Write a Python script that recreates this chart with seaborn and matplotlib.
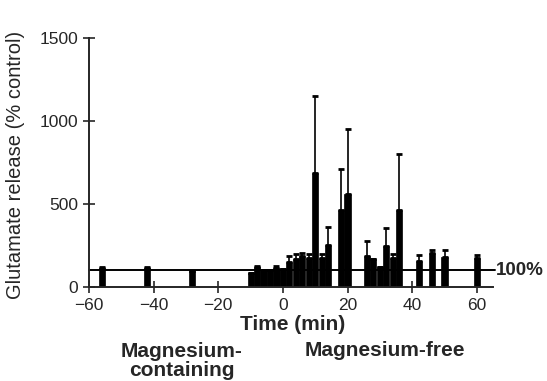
import numpy as np
import pandas as pd
import matplotlib
matplotlib.use('Agg')
import matplotlib.pyplot as plt
import seaborn as sns

# sample times (min) and glutamate release (% control)
times = [-56, -42, -28, -10, -8, -6, -4, -2, 0, 2, 4, 6, 8, 10, 12, 14,
         18, 20, 26, 28, 30, 32, 34, 36, 42, 46, 50, 60]
release = [110, 114, 92, 80, 118, 100, 100, 115, 105, 150, 170, 184, 176, 684, 176, 254,
           464, 560, 184, 166, 120, 244, 176, 464, 156, 204, 180, 176]
# upper error (SEM) only
err_up = [8, 6, 0, 0, 8, 0, 0, 8, 0, 34, 30, 22, 20, 468, 24, 106,
          246, 394, 90, 0, 0, 110, 20, 336, 38, 20, 44, 14]

yticks = [0, 500, 1000, 1500]
xticks = [-60, -40, -20, 0, 20, 40, 60]
baseline = 100

df = pd.DataFrame({'time': times, 'release': release, 'err': err_up})

sns.set_style('ticks')
plt.rcParams['font.family'] = ['Liberation Sans', 'DejaVu Sans']

fig = plt.figure(figsize=(5.47, 3.81), dpi=100)
ax = fig.add_axes([89/547, 1-286.7/381, (493-89)/547, (286.7-38.3)/381])

sns.barplot(data=df, x='time', y='release', native_scale=True, orient='x',
            color='black', saturation=1, width=0.95, errorbar=None,
            edgecolor='black', linewidth=0.5, ax=ax)
ax.errorbar(df['time'], df['release'], yerr=[np.zeros(len(df)), df['err']],
            fmt='none', ecolor='black', elinewidth=1.2, capsize=2.5, capthick=2)

ax.plot([-60, 65.5], [baseline, baseline], color='black', lw=1.4, clip_on=False, zorder=1)
ax.text(65.8, baseline, '100%', fontsize=13.5, fontweight='bold', va='center', ha='left')

ax.set_xlim(-60, 65)
ax.set_ylim(0, 1500)
ax.set_xticks(xticks)
ax.set_xticklabels(['\u2212' + str(-t) if t < 0 else str(t) for t in xticks])
ax.set_yticks(yticks)
ax.tick_params(direction='inout', length=8, width=1.2, labelsize=12.5, pad=4)
sns.despine(ax=ax)
for s in ['left', 'bottom']:
    ax.spines[s].set_linewidth(1.4)

ax.set_xlabel('')
ax.set_ylabel('Glutamate release (% control)', fontsize=14.5)
ax.yaxis.set_label_coords(-0.158, 0.49)

fig.text(293/547, 1-325/381, 'Time (min)', fontsize=15, fontweight='bold', ha='center', va='center')
fig.text(182/547, 1-361/381, 'Magnesium-\ncontaining', fontsize=15, fontweight='bold',
         ha='center', va='center', linespacing=1.0)
fig.text(385/547, 1-350/381, 'Magnesium-free', fontsize=15, fontweight='bold', ha='center', va='center')

fig.savefig('out.png', dpi=100)
